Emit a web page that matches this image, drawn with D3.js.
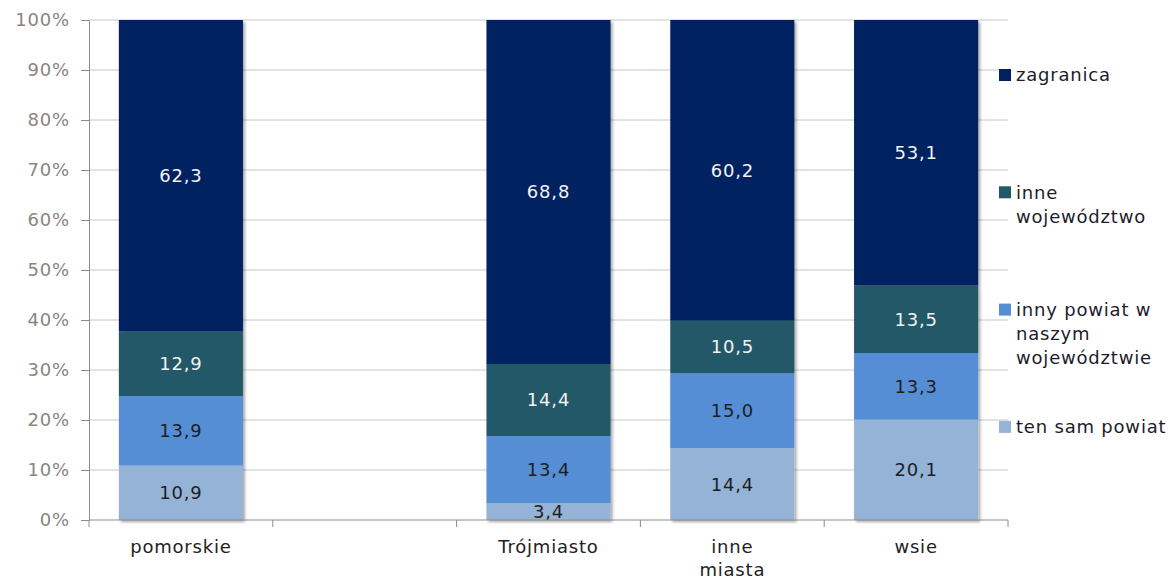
<!DOCTYPE html>
<html>
<head>
<meta charset="utf-8">
<style>
  body { margin: 0; background: #fff; }
  text { font-family: "DejaVu Sans", Verdana, sans-serif; }
</style>
</head>
<body>
<script src="https://d3js.org/d3.v7.min.js"></script>
<div id="chart"></div>
<script>
// categories (the empty one is a gap slot in the original chart)
const categories = ["pomorskie", "", "Trójmiasto", "inne miasta", "wsie"];
const seriesKeys = ["tenSam", "innyPowiat", "inneWoj", "zagranica"];
const tenSamPowiat = [10.9, null, 3.4, 14.4, 20.1];
const innyPowiat = [13.9, null, 13.4, 15.0, 13.3];
const inneWojewodztwo = [12.9, null, 14.4, 10.5, 13.5];
const zagranica = [62.3, null, 68.8, 60.2, 53.1];
const yTicks = [0, 10, 20, 30, 40, 50, 60, 70, 80, 90, 100];
const legendLabels = [
  ["zagranica"],
  ["inne", "województwo"],
  ["inny powiat w", "naszym", "województwie"],
  ["ten sam powiat"]
];
const legendKeys = ["zagranica", "inneWoj", "innyPowiat", "tenSam"];

const colors = {
  tenSam: "#95b3d7",
  innyPowiat: "#558ed5",
  inneWoj: "#215968",
  zagranica: "#002060"
};
const labelColors = { tenSam: "#1e1e1e", innyPowiat: "#1e1e1e", inneWoj: "#f2f2f2", zagranica: "#f2f2f2" };

const W = 1175, H = 581;
const m = { left: 89, right: 1008, top: 20, bottom: 520 };

const svg = d3.select("#chart").append("svg")
  .attr("width", W).attr("height", H);

const defs = svg.append("defs");
const f = defs.append("filter").attr("id", "shadow")
  .attr("x", "-10%").attr("y", "-10%").attr("width", "130%").attr("height", "130%");
f.append("feDropShadow").attr("dx", 2).attr("dy", 2).attr("stdDeviation", 1.5)
  .attr("flood-color", "#000").attr("flood-opacity", 0.35);

const x = d3.scaleBand().domain(d3.range(categories.length)).range([m.left, m.right]).padding(0);
const y = d3.scaleLinear().domain([0, 1]).range([m.bottom, m.top]);

// gridlines
svg.append("g").selectAll("line")
  .data(yTicks.filter(d => d > 0))
  .enter().append("line")
  .attr("x1", m.left).attr("x2", m.right)
  .attr("y1", d => y(d / 100)).attr("y2", d => y(d / 100))
  .attr("stroke", "#c6c6c6").attr("stroke-width", 1);

// y axis
const yAxis = svg.append("g")
  .attr("transform", `translate(${m.left},0)`)
  .call(d3.axisLeft(y).tickValues(yTicks.map(d => d / 100)).tickFormat(d => Math.round(d * 100) + "%").tickSize(8).tickSizeOuter(0).tickPadding(11));
yAxis.select(".domain").attr("stroke", "#8c8c8c");
yAxis.selectAll(".tick line").attr("stroke", "#8c8c8c");
yAxis.attr("font-family", null).attr("font-size", null);
yAxis.selectAll(".tick text")
  .attr("fill", "#8a8580").style("font-size", "18px").style("letter-spacing", "0.8px");

// rows
const rows = categories.map((c, i) => ({
  i: i, name: c,
  tenSam: tenSamPowiat[i], innyPowiat: innyPowiat[i], inneWoj: inneWojewodztwo[i], zagranica: zagranica[i]
})).filter(d => d.tenSam != null);

const stack = d3.stack().keys(seriesKeys).offset(d3.stackOffsetExpand);
const series = stack(rows);

const barW = x.bandwidth() * 0.675;

const gBars = svg.append("g").attr("filter", "url(#shadow)");
series.forEach(s => {
  gBars.selectAll(null).data(s).enter().append("rect")
    .attr("x", d => x(d.data.i) + (x.bandwidth() - barW) / 2)
    .attr("width", barW)
    .attr("y", d => y(d[1]))
    .attr("height", d => y(d[0]) - y(d[1]))
    .attr("fill", colors[s.key]);
});

// data labels
series.forEach(s => {
  svg.append("g").selectAll("text").data(s).enter().append("text")
    .attr("x", d => x(d.data.i) + x.bandwidth() / 2)
    .attr("y", d => (y(d[0]) + y(d[1])) / 2)
    .attr("dy", "0.36em")
    .attr("text-anchor", "middle")
    .style("font-size", "18px").style("letter-spacing", "0.8px")
    .attr("fill", labelColors[s.key])
    .text(d => d.data[s.key].toFixed(1).replace(".", ","));
});

// x axis
const xAxis = svg.append("g").attr("transform", `translate(0,${m.bottom})`);
xAxis.append("line").attr("x1", m.left).attr("x2", m.right).attr("y1", 0).attr("y2", 0).attr("stroke", "#8c8c8c");
xAxis.selectAll(".tk").data(d3.range(categories.length + 1)).enter().append("line")
  .attr("x1", d => m.left + d * x.step()).attr("x2", d => m.left + d * x.step())
  .attr("y1", 0).attr("y2", 7).attr("stroke", "#8c8c8c");
const xLabels = { "inne miasta": ["inne", "miasta"] };
categories.forEach((c, i) => {
  if (!c) return;
  const lines = xLabels[c] || [c];
  const t = xAxis.append("text")
    .attr("x", x(i) + x.bandwidth() / 2).attr("y", 33)
    .attr("text-anchor", "middle")
    .style("font-size", "18px").style("letter-spacing", "0.8px")
    .attr("fill", "#222");
  lines.forEach((l, k) => t.append("tspan").attr("x", x(i) + x.bandwidth() / 2).attr("dy", k ? 23 : 0).text(l));
});

// legend
const legend = svg.append("g");
legendKeys.forEach((k, i) => {
  const cy = 75 + i * 117.3;
  legend.append("rect").attr("x", 999).attr("y", cy - 6).attr("width", 12).attr("height", 12).attr("fill", colors[k]);
  const t = legend.append("text").attr("x", 1016).attr("y", cy)
    .style("font-size", "18px").style("letter-spacing", "0.8px").attr("fill", "#1c1c2c");
  legendLabels[i].forEach((l, j) => t.append("tspan").attr("x", 1016).attr("dy", j ? 24 : "0.36em").text(l));
});
</script>
</body>
</html>
